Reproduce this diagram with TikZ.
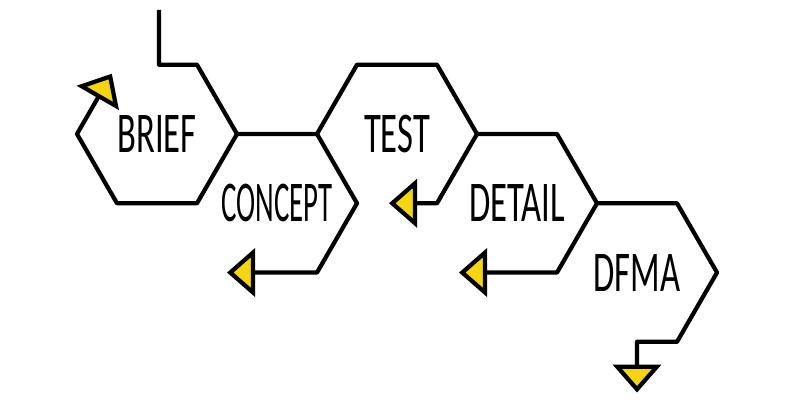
\documentclass[tikz,border=0pt]{standalone}
\usepackage{fontspec}
\usepackage{xcolor}
\usepackage{tikz}
\usetikzlibrary{arrows.meta,calc,positioning}

\newfontfamily\handfont[FakeStretch=0.6]{Carlito}
\newfontfamily\narrowhandfont[FakeStretch=0.5]{Carlito}
\definecolor{tipyellow}{RGB}{245,212,20}

\begin{document}
\begin{tikzpicture}[on grid,
        hexlabel/.style = {font = \handfont\fontsize{41}{41}\selectfont, inner sep = 0pt},
        hexline/.style = {line width = 3pt, line join = round},
        flow/.style = {hexline, -{Triangle[length = 7mm, width = 12mm, fill = tipyellow]}}]
        \useasboundingbox (0,0) rectangle (20,10);
        \node [hexlabel] (brief) at (3.925,6.65) {BRIEF};
        \node [hexlabel, font = \narrowhandfont\fontsize{41}{41}\selectfont] (concept)
            [below right = 1.732cm and 3cm of brief] {CONCEPT};
        \node [hexlabel] (test) [above right = 1.732cm and 3cm of concept] {TEST};
        \node [hexlabel] (detail) [below right = 1.732cm and 3cm of test] {DETAIL};
        \node [hexlabel] (dfma) [below right = 1.732cm and 3cm of detail] {DFMA};
        
        % corners of each cell
        \foreach \cell in {brief, concept, test, detail, dfma}
            \foreach \a in {0, 60, ..., 300}
                \coordinate (\cell-\a) at ($(\cell) + (\a:2)$);
        \coordinate (start) at ($(brief) + (0.05,3.1)$);
        \coordinate (exit) at ($(dfma) + (0,-3)$);
        
        \draw [flow] (start) |- (brief-60) -- (brief-0) -- (brief-300) -- (brief-240) -- (brief-180)
            -- ($(brief-180)!0.87!(brief-120)$);
        \draw [flow] (brief-0) -- (concept-60) -- (concept-0) -- (concept-300)
            -- ($(concept-240) + (-0.25,0)$);
        \draw [flow] (concept-60) -- (test-120) -- (test-60) -- (test-0) -- (test-300)
            -- ($(test-300)!0.6!(test-240)$);
        \draw [flow] (test-0) -- (detail-60) -- (detail-0) -- (detail-300)
            -- ($(detail-240) + (-0.45,0)$);
        \draw [flow] (detail-0) -- (dfma-60) -- (dfma-0) -- (dfma-300) -| (exit);
\end{tikzpicture}
\end{document}
